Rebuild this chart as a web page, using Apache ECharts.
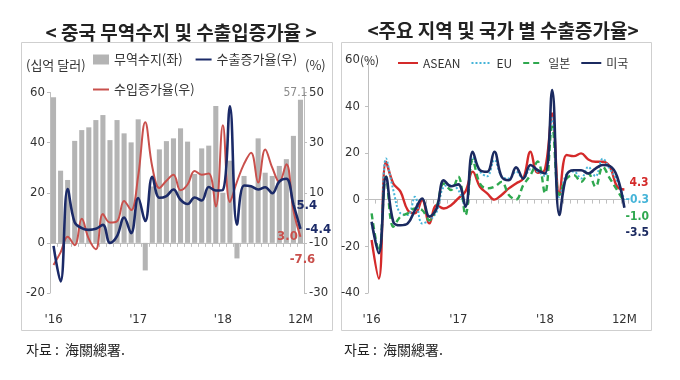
<!DOCTYPE html>
<html><head><meta charset="utf-8">
<script src="https://cdn.jsdelivr.net/npm/echarts@6/dist/echarts.min.js"></script>
<style>html,body{margin:0;padding:0;background:#fff}#c{width:680px;height:380px}</style>
</head><body><div id="c"></div>
<script>
// ---- categories (monthly, Jan 2016 - Dec 2018) ----
const months = ['2016-01','2016-02','2016-03','2016-04','2016-05','2016-06','2016-07','2016-08','2016-09','2016-10','2016-11','2016-12',
  '2017-01','2017-02','2017-03','2017-04','2017-05','2017-06','2017-07','2017-08','2017-09','2017-10','2017-11','2017-12',
  '2018-01','2018-02','2018-03','2018-04','2018-05','2018-06','2018-07','2018-08','2018-09','2018-10','2018-11','2018-12'];
const xTickIdx = [0, 12, 24, 35];
const xTickText = ["'16", "'17", "'18", "12M"];

// ---- left chart: China trade balance (bn USD) and export / import growth (%) ----
const tradeBalance = [58.1, 28.8, 25.1, 40.7, 45.0, 46.1, 49.0, 51.0, 41.0, 49.0, 43.7, 40.1,
  49.3, -11.0, 22.5, 37.3, 40.6, 41.7, 45.7, 40.4, 27.5, 37.7, 38.8, 54.6,
  20.0, 32.8, -6.2, 26.7, 22.5, 41.7, 28.0, 26.7, 30.7, 33.4, 42.7, 57.1];
const exportGrowth = [-11.2, -25.4, 11.5, -1.8, -4.1, -4.8, -4.4, -2.8, -10.0, -7.3, 0.1, -6.1,
  7.9, -1.3, 16.4, 8.0, 8.7, 11.3, 7.2, 5.5, 8.1, 6.9, 12.3, 10.9,
  11.1, 44.5, -2.7, 12.9, 12.6, 11.3, 12.2, 9.8, 14.5, 15.6, 5.4, -4.4];
const importGrowth = [-18.8, -13.8, -7.6, -10.9, -0.4, -8.4, -12.5, 1.5, -1.9, -1.4, 6.7, 3.1,
  16.7, 38.1, 20.3, 11.9, 14.8, 17.2, 11.0, 13.3, 18.7, 17.2, 17.7, 4.5,
  36.9, 6.3, 14.4, 21.5, 26.0, 14.1, 27.3, 20.0, 14.3, 21.4, 3.0, -7.6];

// ---- right chart: export growth by destination (%) ----
const aseanGrowth = [-17.3, -33.8, 16.2, 6.9, 3.4, -4.5, -5.9, -0.2, -10.2, -2.4, -3.8, -2.4,
  0.5, 3.5, 12.0, 5.5, 2.7, 0.0, 2.0, 4.8, 6.9, 9.0, 20.5, 11.5,
  13.0, 36.9, 2.0, 19.1, 18.6, 19.8, 17.2, 16.2, 16.2, 14.0, 5.5, 4.3];
const euGrowth = [-10.2, -21.7, 17.6, 4.1, -5.9, -6.6, 1.2, -10.2, -8.8, -5.2, 5.5, 6.2,
  4.1, -3.0, 18.0, 12.0, 10.0, 17.0, 10.0, 9.0, 12.0, 9.0, 13.0, 12.0,
  10.0, 35.0, 1.0, 11.0, 12.0, 9.0, 14.0, 10.0, 17.5, 13.0, 8.0, -0.3];
const japanGrowth = [-5.9, -22.0, 9.8, -11.6, -7.3, -5.9, -3.8, -4.5, -8.8, -3.0, 6.9, 4.1,
  9.8, -6.6, 17.0, 6.9, 4.8, 5.5, 7.6, 2.0, 0.0, 6.2, 10.5, 16.3,
  2.7, 31.2, 2.0, 9.0, 10.5, 7.6, 11.2, 5.5, 14.0, 9.0, 4.0, -1.0];
const usGrowth = [-9.5, -23.0, 9.8, -9.5, -11.0, -10.2, -4.5, 0.5, -7.3, -3.8, 8.3, 5.7,
  6.5, -3.0, 20.5, 12.6, 11.9, 20.5, 9.8, 8.3, 13.8, 9.0, 14.8, 12.6,
  11.2, 46.9, -6.6, 10.5, 12.6, 12.6, 11.2, 13.3, 14.8, 14.3, 9.8, -3.5];

const KR = "'Noto Sans CJK KR', sans-serif";
const NUM = "'Liberation Sans Narrow', 'DejaVu Sans Condensed', 'Noto Sans CJK KR', sans-serif";
const AX = '#bfbfbf';
const TXT = '#333';

// attach end labels to specific points (by index)
function withLabels(arr, labels) {
  return arr.map((v, i) => labels[i] ? {
    value: v, symbol: 'circle', symbolSize: 0.01,
    label: Object.assign({ show: true, formatter: (p) => Number(p.value).toFixed(1) }, labels[i])
  } : v);
}
const lblNum = (color, extra) => Object.assign({ color: color, fontFamily: NUM, fontSize: 13, fontWeight: 'bold' }, extra);

function catAxisLabels(gridIndex) {
  return [{
    type: 'category', gridIndex: gridIndex, data: months, boundaryGap: true, position: 'bottom',
    axisLine: { show: false, onZero: false }, axisTick: { show: false }, splitLine: { show: false },
    axisLabel: {
      interval: (i) => xTickIdx.indexOf(i) >= 0,
      formatter: (v, i) => { const k = xTickIdx.indexOf(i); return k >= 0 ? xTickText[k] : ''; },
      color: TXT, fontFamily: NUM, fontSize: 13, margin: 20
    }
  }, {
    type: 'category', gridIndex: gridIndex, data: months, boundaryGap: true, position: 'bottom',
    axisLine: { show: true, onZero: true, onZeroAxisIndex: gridIndex === 0 ? 0 : 2, lineStyle: { color: AX, width: 1 } },
    axisTick: { show: true, interval: 0, length: 4, lineStyle: { color: AX } },
    axisLabel: { show: false }, splitLine: { show: false }
  }];
}
const noDot = { opacity: 0 };
const lineCommon = { type: 'line', smooth: 0.4, symbol: 'none', showAllSymbol: true };

const chart = echarts.init(document.getElementById('c'), null, { renderer: 'canvas' });
const option = {
  animation: false,
  backgroundColor: '#fff',
  graphic: [
    { type: 'rect', shape: { x: 21.5, y: 42.5, width: 311, height: 288 }, style: { fill: 'none', stroke: '#cfcfcf', lineWidth: 1 }, z: 0 },
    { type: 'rect', shape: { x: 341.5, y: 42.5, width: 310, height: 288 }, style: { fill: 'none', stroke: '#cfcfcf', lineWidth: 1 }, z: 0 }
  ],
  title: [
    { text: '< 중국 무역수지 및 수출입증가율 >', left: 176, top: 18, textAlign: 'center', textStyle: { fontFamily: KR, fontSize: 19, fontWeight: 'bold', color: '#222' } },
    { text: '<주요 지역 및 국가 별 수출증가율>', left: 498, top: 16, textAlign: 'center', textStyle: { fontFamily: KR, fontSize: 19, fontWeight: 'bold', color: '#222' } },
    { text: '(십억 달러)', left: 26, top: 59, padding: 0, textStyle: { fontFamily: KR, fontSize: 13, fontWeight: 'normal', color: TXT } },
    { text: '(%)', left: 305, top: 59, padding: 0, textStyle: { fontFamily: KR, fontSize: 13, fontWeight: 'normal', color: TXT } },
    { text: '(%)', left: 360, top: 54, padding: 0, textStyle: { fontFamily: KR, fontSize: 12, fontWeight: 'normal', color: TXT } },
    { text: '자료 :  海關總署.', left: 26, top: 343, padding: 0, textStyle: { fontFamily: KR, fontSize: 14, fontWeight: 'normal', color: '#222' } },
    { text: '자료 :  海關總署.', left: 344, top: 343, padding: 0, textStyle: { fontFamily: KR, fontSize: 14, fontWeight: 'normal', color: '#222' } }
  ],
  legend: [
    { data: [{ name: '무역수지(좌)', icon: 'rect' }, { name: '수출증가율(우)', itemStyle: noDot }], left: 93, top: 53, padding: 0,
      itemWidth: 16, itemHeight: 10, itemGap: 12, textStyle: { fontFamily: KR, fontSize: 13, color: TXT } },
    { data: [{ name: '수입증가율(우)', itemStyle: noDot }], left: 92, top: 83, padding: 0,
      itemWidth: 16, itemHeight: 10, textStyle: { fontFamily: KR, fontSize: 13, color: TXT } },
    { data: [{ name: 'ASEAN', itemStyle: noDot }, { name: 'EU', itemStyle: noDot }, { name: '일본', itemStyle: noDot }, { name: '미국', itemStyle: noDot }],
      left: 397, top: 57, padding: 0,
      itemWidth: 20, itemHeight: 10, itemGap: 10, textStyle: { fontFamily: KR, fontSize: 12, color: TXT } }
  ],
  grid: [
    { left: 50, top: 92.5, width: 254, height: 200.5, containLabel: false },
    { left: 368, top: 59.5, width: 260, height: 233.5, containLabel: false }
  ],
  xAxis: [].concat(catAxisLabels(0), catAxisLabels(1)),
  yAxis: [
    { type: 'value', gridIndex: 0, position: 'left', min: -20, max: 60, interval: 20,
      axisLine: { show: true, lineStyle: { color: AX } }, axisTick: { show: true, length: 3, lineStyle: { color: AX } },
      splitLine: { show: false }, axisLabel: { color: TXT, fontFamily: NUM, fontSize: 13, margin: 5 } },
    { type: 'value', gridIndex: 0, position: 'right', min: -30, max: 50, interval: 20,
      axisLine: { show: true, lineStyle: { color: AX } }, axisTick: { show: true, length: 3, lineStyle: { color: AX } },
      splitLine: { show: false }, axisLabel: { color: TXT, fontFamily: NUM, fontSize: 13, margin: 5 } },
    { type: 'value', gridIndex: 1, position: 'left', min: -40, max: 60, interval: 20,
      axisLine: { show: true, lineStyle: { color: AX } }, axisTick: { show: true, length: 3, lineStyle: { color: AX } },
      splitLine: { show: false }, axisLabel: { color: TXT, fontFamily: NUM, fontSize: 13, margin: 8 } }
  ],
  series: [
    { name: '무역수지(좌)', type: 'bar', xAxisIndex: 0, yAxisIndex: 0, barCategoryGap: '28%',
      itemStyle: { color: '#b4b4b4' },
      data: tradeBalance.map((v, i) => i === 35 ? { value: v, label: { show: true, position: 'top', distance: 1, offset: [-5, 0], color: '#8a8a8a', fontFamily: NUM, fontSize: 12, formatter: (p) => Number(p.value).toFixed(1) } } : v) },
    Object.assign({}, lineCommon, { name: '수입증가율(우)', xAxisIndex: 0, yAxisIndex: 1, z: 3,
      lineStyle: { color: '#c9504c', width: 2 }, itemStyle: { color: '#c9504c' },
      data: withLabels(importGrowth, { 34: lblNum('#c9504c', { position: 'bottom', distance: 4, offset: [-6, 16] }), 35: lblNum('#c9504c', { position: 'bottom', distance: 4, offset: [2, 12] }) }) }),
    Object.assign({}, lineCommon, { name: '수출증가율(우)', xAxisIndex: 0, yAxisIndex: 1, z: 4,
      lineStyle: { color: '#1b2a68', width: 2.6 }, itemStyle: { color: '#1b2a68' },
      data: withLabels(exportGrowth, { 34: lblNum('#1b2a68', { position: 'right', distance: 3, offset: [0, 1] }), 35: lblNum('#1b2a68', { position: 'right', distance: 5, offset: [0, 1] }) }) }),
    Object.assign({}, lineCommon, { name: 'ASEAN', xAxisIndex: 2, yAxisIndex: 2, z: 3,
      lineStyle: { color: '#d42a2a', width: 2.4 }, itemStyle: { color: '#d42a2a' },
      data: withLabels(aseanGrowth, { 35: lblNum('#d42a2a', { position: 'right', distance: 5, offset: [0, -7], fontSize: 12 }) }) }),
    Object.assign({}, lineCommon, { name: 'EU', xAxisIndex: 2, yAxisIndex: 2, z: 3,
      lineStyle: { color: '#45b4d8', width: 2, type: 'dotted' }, itemStyle: { color: '#45b4d8' },
      data: withLabels(euGrowth, { 35: lblNum('#45b4d8', { position: 'right', distance: 1, offset: [0, 0], fontSize: 12 }) }) }),
    Object.assign({}, lineCommon, { name: '일본', xAxisIndex: 2, yAxisIndex: 2, z: 3,
      lineStyle: { color: '#2fa84f', width: 2.4, type: [6, 4] }, itemStyle: { color: '#2fa84f' },
      data: withLabels(japanGrowth, { 35: lblNum('#2fa84f', { position: 'right', distance: 1, offset: [0, 15], fontSize: 12 }) }) }),
    Object.assign({}, lineCommon, { name: '미국', xAxisIndex: 2, yAxisIndex: 2, z: 4,
      lineStyle: { color: '#1b2a60', width: 2.6 }, itemStyle: { color: '#1b2a60' },
      data: withLabels(usGrowth, { 35: lblNum('#1b2a60', { position: 'right', distance: 1, offset: [0, 25], fontSize: 12 }) }) })
  ]
};
chart.setOption(option);
</script>
</body></html>
